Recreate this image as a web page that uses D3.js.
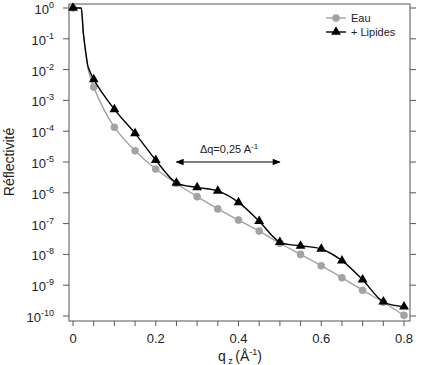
<!DOCTYPE html>
<html>
<head>
<meta charset="utf-8">
<script src="https://cdn.jsdelivr.net/npm/d3@7"></script>
<style>
    body { margin: 0; background: #fff; }
    svg { font-family: 'Liberation Sans', Arial, sans-serif; }
</style>
</head>
<body>
<svg width="421" height="365"></svg>
<script>
// q values (Å-1) of the measured points
const qPoints = [0, 0.05, 0.1, 0.15, 0.2, 0.25, 0.3, 0.35, 0.4, 0.45, 0.5, 0.55, 0.6, 0.65, 0.7, 0.75, 0.8];
const eauR = [1, 2.7e-3, 1.35e-4, 2.3e-5, 5.9e-6, 2.0e-6, 7.5e-7, 3.0e-7, 1.3e-7, 5.7e-8, 2.3e-8, 1.0e-8, 4.3e-9, 1.75e-9, 6.9e-10, 2.8e-10, 1.05e-10];
const lipidesR = [1, 4.8e-3, 5.1e-4, 8.5e-5, 1.15e-5, 2.1e-6, 1.5e-6, 1.15e-6, 4.9e-7, 1.2e-7, 2.5e-8, 1.9e-8, 1.5e-8, 6.3e-9, 1.5e-9, 2.9e-10, 2.0e-10];
// total reflection edge of the fitted curves
const edgeQ = [0.02, 0.025, 0.03, 0.036];
const eauEdgeR = [1, 0.15, 0.04, 0.011];
const lipidesEdgeR = [1, 0.155, 0.044, 0.0126];

const xTicks = [0, 0.2, 0.4, 0.6, 0.8];
const xMinorTicks = d3.range(0, 17).map(i => i * 0.05);
const yTicks = d3.range(-10, 1).map(e => Math.pow(10, e));

const svg = d3.select('svg');
const frame = { left: 69, right: 410, top: 4, bottom: 321 };
const axisColor = '#555';

const x = d3.scaleLinear().domain([0, 0.8]).range([73, 404]);
const y = d3.scaleLog().domain([1e-10, 1]).range([316, 8]);

// frame
svg.append('rect')
    .attr('x', frame.left)
    .attr('y', frame.top)
    .attr('width', frame.right - frame.left)
    .attr('height', frame.bottom - frame.top)
    .attr('fill', 'none')
    .attr('stroke', axisColor)
    .attr('stroke-width', 1);

// x ticks
svg.append('g')
    .selectAll('line')
    .data(xMinorTicks)
    .enter()
    .append('line')
    .attr('x1', d => x(d))
    .attr('x2', d => x(d))
    .attr('y1', frame.bottom)
    .attr('y2', frame.bottom + 5)
    .attr('stroke', axisColor);

svg.append('g')
    .selectAll('text')
    .data(xTicks)
    .enter()
    .append('text')
    .attr('x', d => x(d))
    .attr('y', 343)
    .attr('text-anchor', 'middle')
    .attr('font-size', 13)
    .attr('fill', '#222')
    .text(d => d === 0 ? '0' : d3.format('.1f')(d));

// y ticks, left and right
const yTick = svg.append('g');
yTick.selectAll('line.left')
    .data(yTicks)
    .enter()
    .append('line')
    .attr('class', 'left')
    .attr('x1', frame.left - 6)
    .attr('x2', frame.left)
    .attr('y1', d => y(d))
    .attr('y2', d => y(d))
    .attr('stroke', axisColor);
yTick.selectAll('line.right')
    .data(yTicks)
    .enter()
    .append('line')
    .attr('class', 'right')
    .attr('x1', frame.right)
    .attr('x2', frame.right + 6)
    .attr('y1', d => y(d))
    .attr('y2', d => y(d))
    .attr('stroke', axisColor);

const yLabel = yTick.selectAll('text')
    .data(yTicks)
    .enter()
    .append('text')
    .attr('x', 54)
    .attr('y', d => y(d) + 6)
    .attr('text-anchor', 'end')
    .attr('font-size', 13)
    .attr('fill', '#222');
yLabel.append('tspan').text('10');
yLabel.append('tspan')
    .attr('dy', -6)
    .attr('font-size', 9)
    .text(d => Math.round(Math.log10(d)));

// axis titles
svg.append('text')
    .attr('transform', 'translate(14,162) rotate(-90)')
    .attr('text-anchor', 'middle')
    .attr('font-size', 14)
    .attr('fill', '#222')
    .text('Réflectivité');

const xTitle = svg.append('text')
    .attr('x', 240)
    .attr('y', 361)
    .attr('text-anchor', 'middle')
    .attr('font-size', 14)
    .attr('fill', '#222');
xTitle.append('tspan').text('q');
xTitle.append('tspan').attr('dy', 3).attr('font-size', 9).text(' z ');
xTitle.append('tspan').attr('dy', -3).text('(Å');
xTitle.append('tspan').attr('dy', -6).attr('font-size', 9).text('-1');
xTitle.append('tspan').attr('dy', 6).text(')');

// series: the edge part is drawn monotone, the rest as a smooth spline
const edgePart = (edgeR, values) => {
    const pts = [[qPoints[0], values[0]]];
    edgeQ.forEach((q, i) => pts.push([q, edgeR[i]]));
    pts.push([qPoints[1], values[1]]);
    return pts;
};
const tailPart = (edgeR, values) => {
    const pts = [[edgeQ[edgeQ.length - 1], edgeR[edgeR.length - 1]]];
    qPoints.slice(1).forEach((q, i) => pts.push([q, values[i + 1]]));
    return pts;
};

const edgeLine = d3.line()
    .x(d => x(d[0]))
    .y(d => y(d[1]))
    .curve(d3.curveMonotoneX);
const tailLine = d3.line()
    .x(d => x(d[0]))
    .y(d => y(d[1]))
    .curve(d3.curveCatmullRom.alpha(0.5));

const series = [
    { name: 'Eau', values: eauR, edge: eauEdgeR, color: '#a3a3a3', stroke: 1.4, symbol: d3.symbolCircle, size: 45 },
    { name: '+ Lipides', values: lipidesR, edge: lipidesEdgeR, color: '#000', stroke: 1.4, symbol: d3.symbolTriangle, size: 42 }
];

series.forEach((s) => {
    const g = svg.append('g');
    g.append('path')
        .attr('d', edgeLine(edgePart(s.edge, s.values).slice(0, -1)))
        .attr('fill', 'none')
        .attr('stroke', s.color)
        .attr('stroke-width', s.stroke);
    g.append('path')
        .attr('d', tailLine(tailPart(s.edge, s.values)))
        .attr('fill', 'none')
        .attr('stroke', s.color)
        .attr('stroke-width', s.stroke);
    g.append('g')
        .selectAll('path')
        .data(qPoints.map((q, i) => [q, s.values[i]]))
        .enter()
        .append('path')
        .attr('transform', d => `translate(${x(d[0])},${y(d[1])})`)
        .attr('d', d3.symbol().type(s.symbol).size(s.size))
        .attr('fill', s.color);
});

// legend
const legend = svg.append('g')
    .selectAll('g')
    .data(series)
    .enter()
    .append('g')
    .attr('transform', (d, i) => `translate(326,${18 + i * 14})`);
legend.append('line')
    .attr('x2', 20)
    .attr('stroke', d => d.color)
    .attr('stroke-width', 1.4);
legend.append('path')
    .attr('transform', 'translate(10,0)')
    .attr('d', d => d3.symbol().type(d.symbol).size(d.size)())
    .attr('fill', d => d.color);
legend.append('text')
    .attr('x', 25)
    .attr('y', 4)
    .attr('font-size', 11)
    .attr('fill', '#222')
    .text(d => d.name);

// delta q annotation
const defs = svg.append('defs');
defs.append('marker')
    .attr('id', 'head')
    .attr('viewBox', '0 0 10 10')
    .attr('refX', 9)
    .attr('refY', 5)
    .attr('markerWidth', 10)
    .attr('markerHeight', 8)
    .attr('markerUnits', 'userSpaceOnUse')
    .attr('orient', 'auto-start-reverse')
    .append('path')
    .attr('d', 'M0,1 L10,5 L0,9 Z')
    .attr('fill', '#000');

svg.append('line')
    .attr('x1', x(0.25))
    .attr('x2', x(0.5))
    .attr('y1', 162)
    .attr('y2', 162)
    .attr('stroke', '#000')
    .attr('stroke-width', 1.2)
    .attr('marker-start', 'url(#head)')
    .attr('marker-end', 'url(#head)');

const note = svg.append('text')
    .attr('x', 229)
    .attr('y', 153)
    .attr('text-anchor', 'middle')
    .attr('font-size', 11)
    .attr('fill', '#222');
note.append('tspan').text('Δq=0,25 A');
note.append('tspan').attr('dy', -4).attr('font-size', 8).text('-1');
</script>
</body>
</html>
